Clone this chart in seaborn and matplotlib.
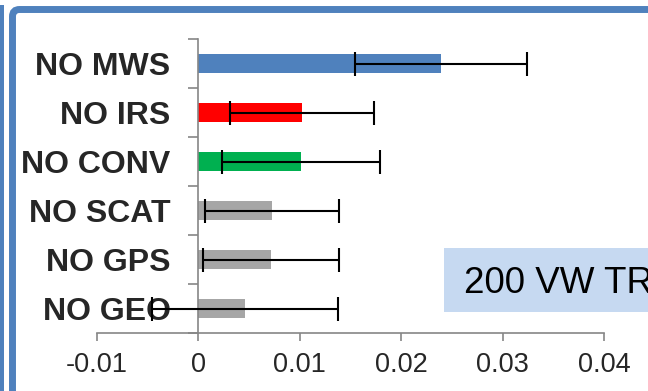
import matplotlib
matplotlib.use("Agg")
import matplotlib.pyplot as plt
from matplotlib.patches import FancyBboxPatch, Rectangle
import numpy as np
import pandas as pd
import seaborn as sns

# Experiment names, mean impact and error half-widths
experiments = ["NO MWS", "NO IRS", "NO CONV", "NO SCAT", "NO GPS", "NO GEO"]
impact = [0.0239, 0.0102, 0.0101, 0.0073, 0.0072, 0.0046]
impact_err = [0.0085, 0.0071, 0.0078, 0.0066, 0.0067, 0.0092]
bar_colors = ["#4F81BD", "#FF0000", "#00B050", "#A6A6A6", "#A6A6A6", "#A6A6A6"]

x_ticks = [-0.01, 0, 0.01, 0.02, 0.03, 0.04]
x_tick_labels = ["-0.01", "0", "0.01", "0.02", "0.03", "0.04"]

box_text = "200 VW TR"

sns.set_theme(style="white")
plt.rcParams["font.family"] = ["Liberation Sans", "DejaVu Sans"]

W, H, DPI = 648, 391, 100
fig = plt.figure(figsize=(W / DPI, H / DPI), dpi=DPI)
ax = fig.add_axes([97 / W, 1 - 333 / H, (604 - 97) / W, (333 - 39) / H])

df = pd.DataFrame({"experiment": experiments, "impact": impact})
sns.barplot(data=df, x="impact", y="experiment", hue="experiment",
            palette=bar_colors, width=0.4, orient="h", legend=False,
            saturation=1, linewidth=0, ax=ax)

ax.errorbar(impact, np.arange(len(experiments)), xerr=impact_err,
            fmt="none", ecolor="black", elinewidth=1.5, capsize=8.5,
            capthick=1.5, zorder=4)

axis_gray = "#868686"
ax.set_xlim(-0.01, 0.04)
ax.set_ylim(len(experiments) - 0.5, -0.5)

for side in ("top", "right"):
    ax.spines[side].set_visible(False)
ax.spines["left"].set_position(("data", 0))
ax.spines["left"].set_color(axis_gray)
ax.spines["bottom"].set_color(axis_gray)
ax.spines["left"].set_linewidth(1.2)
ax.spines["bottom"].set_linewidth(1.2)

ax.set_xticks(x_ticks, x_tick_labels)
ax.tick_params(axis="x", direction="out", length=6, width=1.2,
               color=axis_gray, labelsize=19.5, pad=8, bottom=True)

ax.set_yticks(np.arange(len(experiments)), experiments)
ax.set_yticks(np.arange(len(experiments) + 1) - 0.5, minor=True)
ax.tick_params(axis="y", which="major", length=0, pad=20, labelsize=23)
ax.tick_params(axis="y", which="minor", direction="out", length=7.2,
               width=1.2, color=axis_gray, left=True)
for lbl in ax.get_yticklabels():
    lbl.set_fontweight("bold")

ax.set_xlabel("")
ax.set_ylabel("")
ax.grid(False)

# Surrounding frame
frame_blue = "#4F81BD"
px = 1 / DPI
fig.patches.append(FancyBboxPatch(
    (12.5 * px, -1), 10, (H - 9.5) * px + 1,
    boxstyle="round,pad=0,rounding_size=0.07",
    transform=fig.dpi_scale_trans, fill=False, ec=frame_blue, lw=5,
    clip_on=False))
fig.patches.append(Rectangle((0, 0), 4 * px, (H - 5) * px,
                             transform=fig.dpi_scale_trans, fc=frame_blue,
                             ec="none"))

# Annotation box, running past the right edge
fig.patches.append(Rectangle((444 * px, (H - 312) * px), 3, 64 * px,
                             transform=fig.dpi_scale_trans, fc="#C6D9F1",
                             ec="none"))
fig.text(464 * px, (H - 293) * px, box_text, transform=fig.dpi_scale_trans,
         fontsize=26.5, color="black", ha="left", va="baseline")

fig.savefig("out.png", dpi=DPI)
